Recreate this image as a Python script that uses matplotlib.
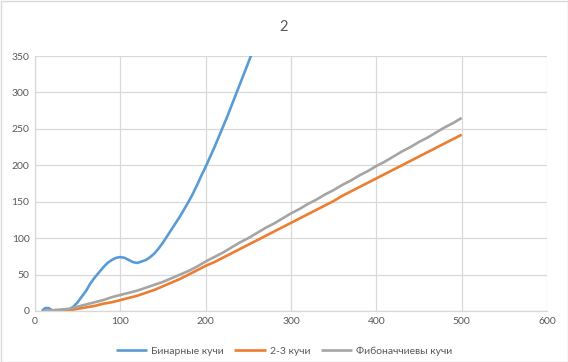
import matplotlib
matplotlib.use("Agg")
import matplotlib.pyplot as plt
from matplotlib.patches import Rectangle

# ---- data ----
binary_x = [8, 12, 16, 20, 25, 30, 35, 40, 45, 50, 55, 60, 65, 70, 75, 80, 85, 90, 95, 100,
            105, 110, 115, 120, 125, 130, 135, 140, 145, 150, 155, 160, 165, 170, 175, 180,
            185, 190, 195, 200, 205, 210, 215, 220, 225, 230, 235, 240, 245, 250, 255, 260]
binary_y = [0, 4, 4, 1, 0, 0, 0, 2, 6, 12, 20, 28, 38, 46, 53, 60, 66, 70, 73, 74,
            73, 70, 67, 66, 68, 70, 74, 79, 86, 94, 103, 112, 121, 130, 140, 150,
            161, 173, 186, 198, 211, 224, 238, 252, 266, 281, 296, 311, 326, 341, 356, 371]

n_x = list(range(10, 510, 10))
two_three_y = [0, 0, 0, 1, 3, 5, 7, 10, 12, 15, 18, 21, 25, 29, 34, 39, 44, 50, 56, 62,
               67, 73, 79, 85, 91, 97, 103, 109, 115, 121, 127, 133, 139, 145, 151, 158,
               164, 170, 176, 182, 188, 194, 200, 206, 212, 218, 224, 230, 236, 242]
fib_y = [0, 1, 2, 3, 6, 9, 12, 15, 19, 22, 25, 28, 32, 36, 40, 45, 50, 55, 61, 68,
         74, 80, 87, 94, 100, 107, 114, 120, 127, 134, 140, 147, 153, 160, 166, 173,
         179, 186, 192, 199, 205, 212, 219, 225, 232, 238, 245, 252, 258, 265]

series_names = ["Бинарные кучи", "2-3 кучи", "Фибоначчиевы кучи"]
colors = ["#5B9BD5", "#ED7D31", "#A5A5A5"]
title = "2"
x_ticks = [0, 100, 200, 300, 400, 500, 600]
y_ticks = [0, 50, 100, 150, 200, 250, 300, 350]

plt.rcParams['font.family'] = ['Lato', 'Noto Sans', 'DejaVu Sans']
text_color = "#595959"
grid_color = "#D9D9D9"

fig = plt.figure(figsize=(5.68, 3.62), dpi=100)
ax = fig.add_axes([35/568, 1-311/362, (547-35)/568, (311-56)/362])

lw = 1.9
ax.plot(binary_x, binary_y, color=colors[0], lw=lw, label=series_names[0], solid_capstyle='butt')
ax.plot(n_x, two_three_y, color=colors[1], lw=lw, label=series_names[1], solid_capstyle='butt')
ax.plot(n_x, fib_y, color=colors[2], lw=lw, label=series_names[2], solid_capstyle='butt')

ax.set_xlim(0, 600)
ax.set_ylim(0, 350)
ax.set_xticks(x_ticks)
ax.set_yticks(y_ticks)
ax.grid(True, color=grid_color, lw=0.9)
ax.set_axisbelow(True)
for s in ["top", "right"]:
    ax.spines[s].set_visible(False)
for s in ["left", "bottom"]:
    ax.spines[s].set_color(grid_color)
    ax.spines[s].set_linewidth(0.9)
ax.tick_params(length=0, labelsize=7.5, labelcolor=text_color, pad=4)

fig.text(0.5, 1-27/362, title, ha='center', va='center', fontsize=10.5, color=text_color)

leg = fig.legend(loc='center', bbox_to_anchor=(0.5, 1-351/362), ncol=3, frameon=False,
                 fontsize=7.5, handlelength=3.0, handletextpad=0.4, columnspacing=1.0)
for t in leg.get_texts():
    t.set_color(text_color)

fig.patches.append(Rectangle((0.5/568, 0.5/362), 1-1/568, 1-1/362, transform=fig.transFigure,
                             fill=False, edgecolor=grid_color, lw=1))

fig.savefig("out.png", dpi=100)
